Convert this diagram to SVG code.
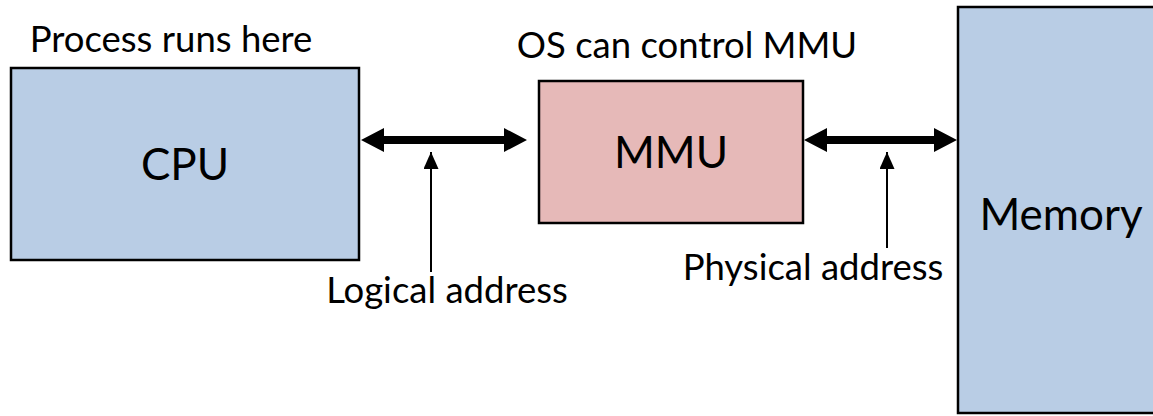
<svg xmlns="http://www.w3.org/2000/svg" width="1153" height="416" viewBox="0 0 1153 416">
  <style>
    .box { stroke: #000; stroke-width: 2.5; }
    .blue { fill: #b9cde5; }
    .pink { fill: #e6b9b8; }
    .lbl { font-family: Lato, "Liberation Sans", sans-serif; font-size: 36.5px; fill: #000; text-anchor: middle; }
    .big { font-family: Lato, "Liberation Sans", sans-serif; font-size: 44px; fill: #000; text-anchor: middle; }
    .bus { fill: #000; }
    .ptr { stroke: #000; stroke-width: 2; fill: none; marker-end: url(#tip); }
  </style>
  <defs>
    <marker id="tip" viewBox="0 0 17 15" refX="17" refY="7.5" markerWidth="17" markerHeight="15" markerUnits="userSpaceOnUse" orient="auto">
      <path d="M0,0 L17,7.5 L0,15 Z" fill="#000"/>
    </marker>
  </defs>

  <g id="cpu">
    <rect class="box blue" x="11" y="68" width="348" height="192"/>
    <text class="big" x="185" y="180">CPU</text>
  </g>
  <text class="lbl" x="171" y="52">Process runs here</text>

  <g id="mmu">
    <rect class="box pink" x="539" y="81" width="264" height="142"/>
    <text class="big" x="671" y="168">MMU</text>
  </g>
  <text class="lbl" x="687" y="58">OS can control MMU</text>

  <g id="memory">
    <rect class="box blue" x="958" y="7" width="210" height="406"/>
    <text class="big" x="1061" y="230">Memory</text>
  </g>

  <g id="connectors">
    <!-- CPU <-> MMU bus -->
    <polygon class="bus" points="361,140 384,128 384,136 504,136 504,128 527,140 504,152 504,144 384,144 384,152"/>
    <!-- MMU <-> Memory bus -->
    <polygon class="bus" points="804,140 827,128 827,136 934,136 934,128 957,140 934,152 934,144 827,144 827,152"/>
    <line class="ptr" x1="431" y1="272" x2="431" y2="152"/>
    <line class="ptr" x1="887" y1="248" x2="887" y2="152"/>
  </g>
  <text class="lbl" x="447" y="303">Logical address</text>
  <text class="lbl" x="813" y="280">Physical address</text>
</svg>
